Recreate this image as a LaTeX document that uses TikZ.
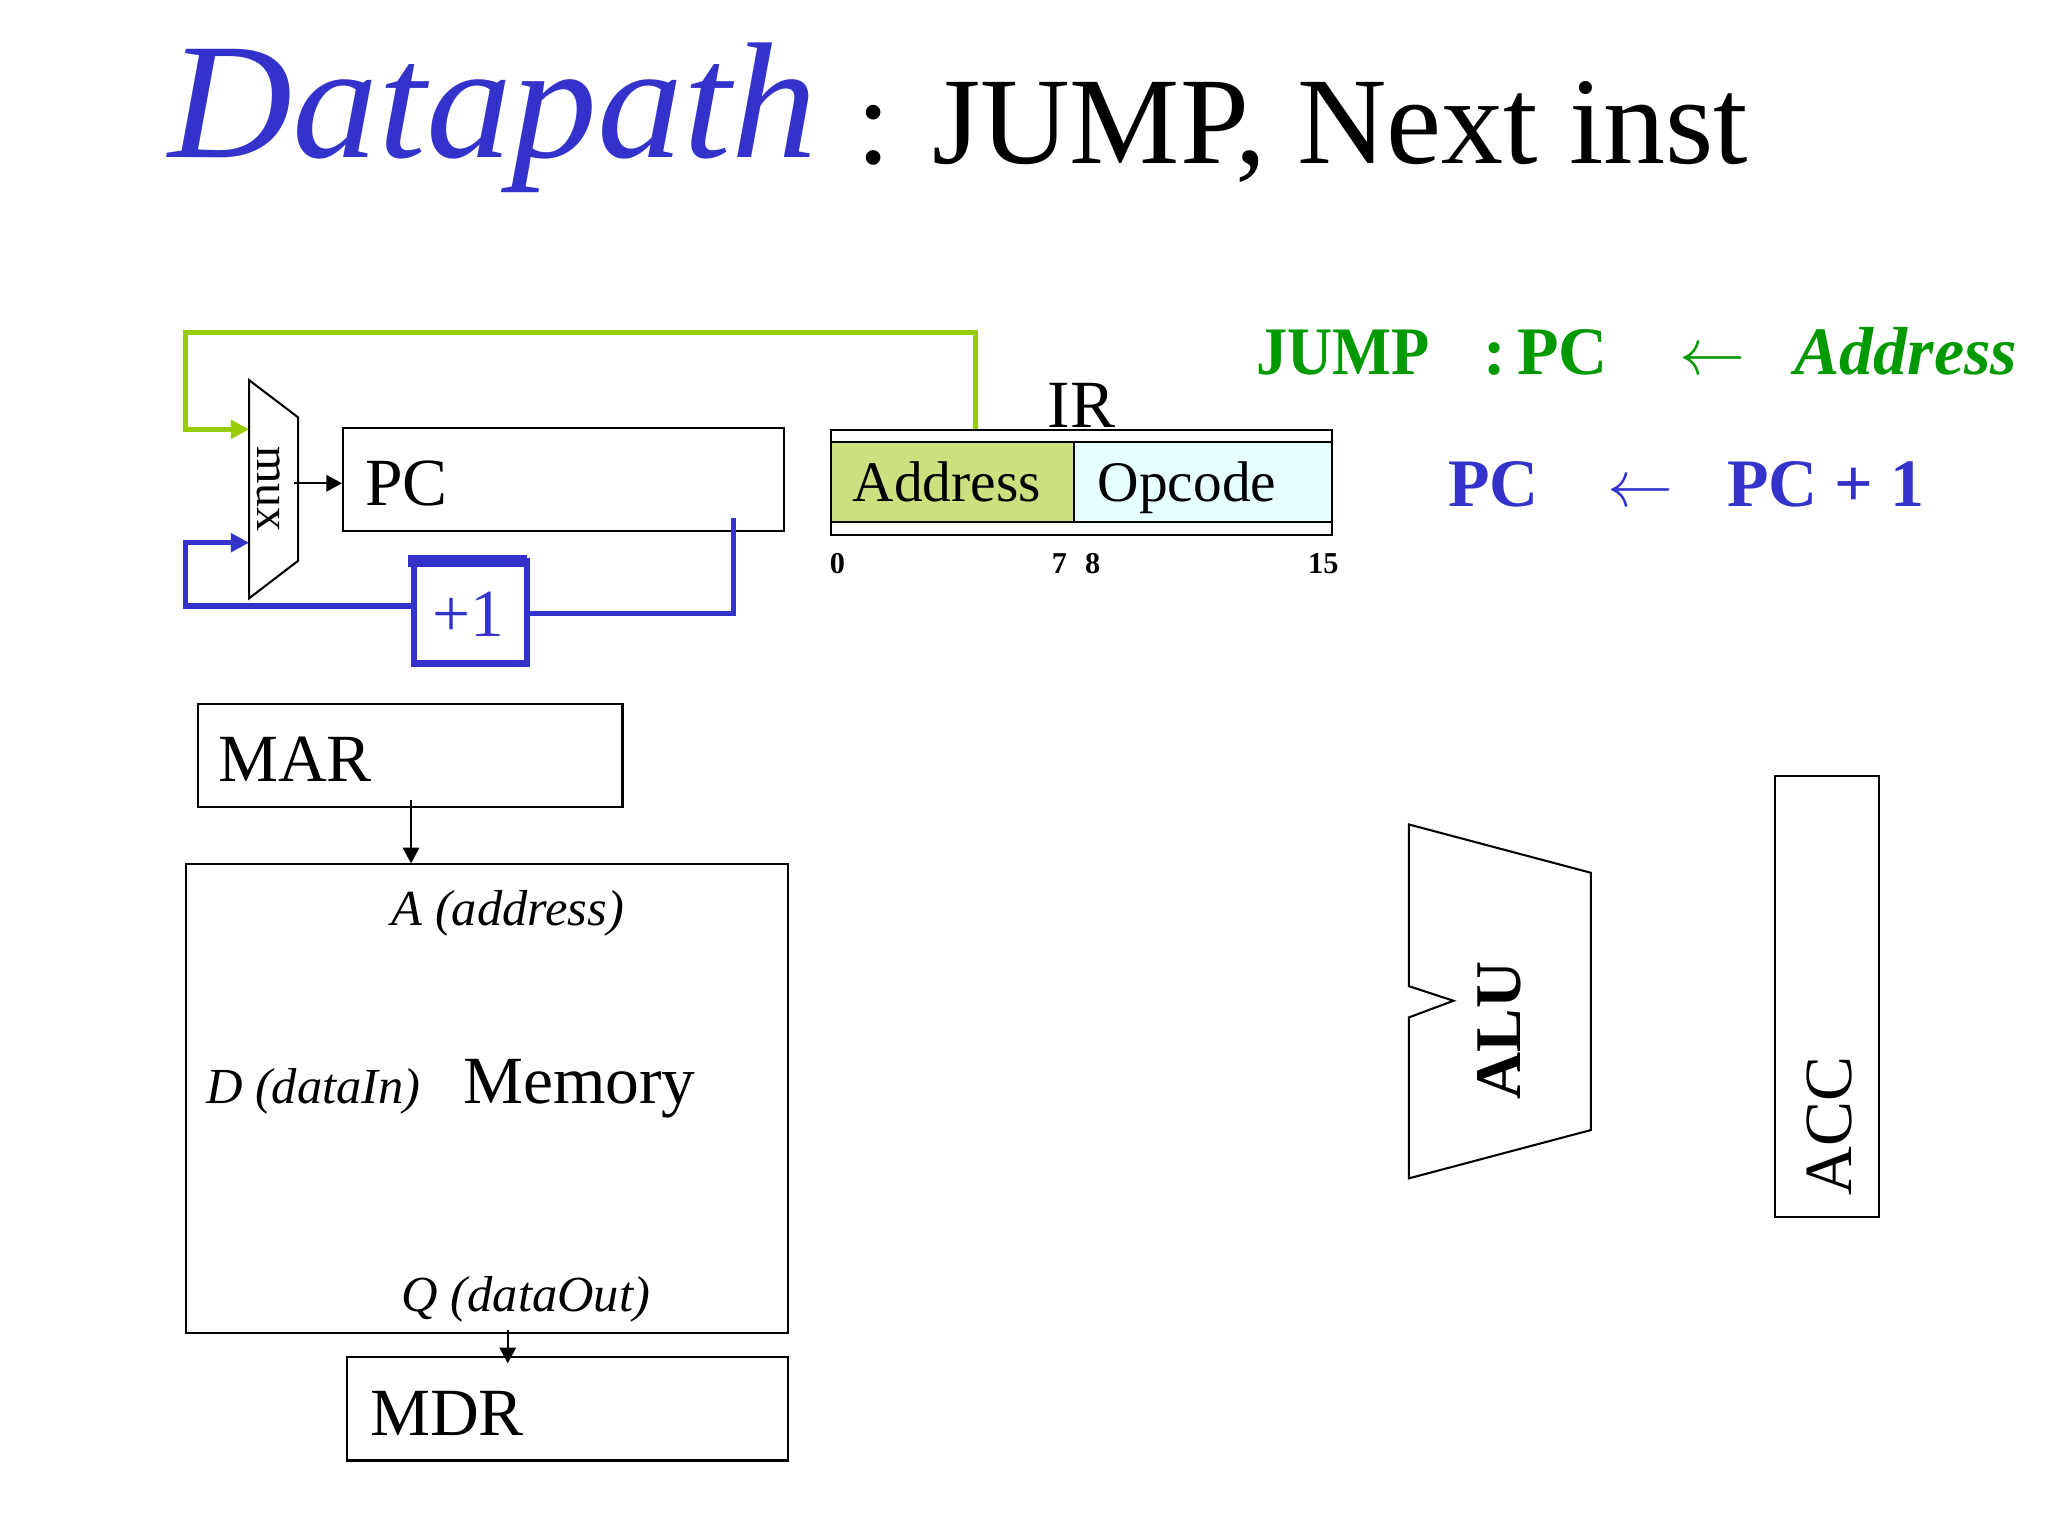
\documentclass[tikz,border=0pt]{standalone}
\usepackage{fontspec}
\setmainfont{Liberation Serif}
\usetikzlibrary{arrows.meta}

\definecolor{dpblue}{RGB}{51,51,204}
\definecolor{wiregreen}{RGB}{153,204,0}
\definecolor{jumpgreen}{RGB}{0,153,0}
\definecolor{addrfill}{RGB}{204,224,128}
\definecolor{opfill}{RGB}{230,255,255}

\newcommand{\regfont}{\fontsize{14.7}{17}\selectfont}
\newcommand{\fieldfont}{\fontsize{12.5}{15}\selectfont}
\newcommand{\portfont}{\fontsize{11}{13}\selectfont\itshape}
\newcommand{\bitfont}{\fontsize{6.6}{8}\selectfont\bfseries}
\newcommand{\eqfont}{\fontsize{14.8}{17}\selectfont\bfseries}

\begin{document}
\begin{tikzpicture}[x=0.1mm,y=-0.1mm,line width=0.45pt,
  txt/.style={inner sep=0pt,anchor=base west},
  reg/.style={draw,inner sep=0pt,anchor=north west},
  wire/.style={line width=0.4mm},
  tip/.style={-{Triangle[length=1.2mm,width=1.25mm]}},
  wtip/.style={-{Triangle[length=1.4mm,width=1.4mm]}}]

\path[use as bounding box,fill=white] (0,0) rectangle (1568,1176);

%Titolo
\node[txt,text=dpblue,font=\fontsize{36}{40}\selectfont\itshape] (title) at (128,120.5) {\scalebox{1.04}[1]{Datapath}};
\node[txt,font=\fontsize{27}{30}\selectfont] (subtitle) at (655,125) {: JUMP, Next inst};

%PC e mux
\begin{scope}
\draw (190.7,291) -- (228.3,319.6) -- (228.3,429.3) -- (190.7,458.1) -- cycle;
\node[rotate=-90,inner sep=0pt,font=\fontsize{10.5}{12}\selectfont] (muxlbl) at (206,374.5) {mux};

\node[reg,minimum width=33.73mm,minimum height=7.91mm] (pc) at (261.9,326.7) {};
\node[txt,font=\regfont] (pclbl) at (279,387.2) {PC};

\coordinate (muxout) at (225,370);
\draw[tip] (muxout) -- (muxout -| pc.west);

\node[reg,draw=dpblue,line width=0.48mm,minimum width=8.65mm,minimum height=7.82mm] (inc) at (314.8,427.4) {};
\fill[dpblue] (312.4,425) rectangle (403.7,434);
\node[txt,text=dpblue,font=\regfont] (inclbl) at (330,487.5) {+1};

\coordinate (pctap) at (561.6,396.9);
\coordinate (incr) at (401.3,469.6);
\coordinate (incl) at (314.8,464);
\coordinate (bcorner) at (142.2,415.5);
\coordinate (muxb) at (190.7,415.5);
\draw[wire,dpblue] (pctap) |- (incr);
\draw[wire,dpblue,wtip] (incl) -| (bcorner) -- (muxb);
\end{scope}

%IR
\begin{scope}
\node[reg,minimum width=38.35mm,minimum height=8.07mm] (ir) at (635.5,328.2) {};
\node[reg,fill=addrfill,minimum width=18.57mm,minimum height=6.13mm] (iraddr) at (635.5,337.4) {};
\node[reg,fill=opfill,minimum width=19.78mm,minimum height=6.13mm] (irop) at (821.2,337.4) {};
\node[txt,font=\regfont] (irlbl) at (801.5,327.5) {IR};
\node[txt,font=\fieldfont] (addrlbl) at (652,384) {Address};
\node[txt,font=\fieldfont] (oplbl) at (839.7,384) {Opcode};

\node[txt,font=\bitfont] (bit0) at (634.5,439) {0};
\node[txt,font=\bitfont] (bit7) at (804.5,439) {7};
\node[txt,font=\bitfont] (bit8) at (830,439) {8};
\node[txt,font=\bitfont] (bit15) at (1000.8,439) {15};

\coordinate (irtap) at (746.8,328.2);
\coordinate (gcorner) at (142.2,254.5);
\coordinate (muxa) at (190.7,328.7);
\draw[wire,wiregreen,wtip] (irtap) |- (gcorner) |- (muxa);
\end{scope}

%RTL
\node[txt,text=jumpgreen,font=\eqfont] (jmp) at (961,286.4) {\scalebox{0.92}[1]{JUMP}};
\node[txt,text=jumpgreen,font=\eqfont] (jcolon) at (1135,286.4) {:};
\node[txt,text=jumpgreen,font=\eqfont] (jpc) at (1161,286.4) {PC};
\node[txt,text=jumpgreen,font=\eqfont] (jarrow) at (1285,286.4) {$\leftarrow$};
\node[txt,text=jumpgreen,font=\eqfont\itshape] (jaddr) at (1373,286.4) {Address};

\node[txt,text=dpblue,font=\eqfont] (npc) at (1108,388) {PC};
\node[txt,text=dpblue,font=\eqfont] (narrow) at (1230,388) {$\leftarrow$};
\node[txt,text=dpblue,font=\eqfont] (ninc) at (1321.6,388) {PC + 1};

%Memoria
\begin{scope}
\node[reg,minimum width=32.51mm,minimum height=7.92mm] (mar) at (150.7,538) {};
\node[txt,font=\regfont] (marlbl) at (166.3,598.5) {MAR};

\node[reg,minimum width=46.09mm,minimum height=35.87mm] (mem) at (141.4,661) {};
\node[txt,font=\portfont] (memA) at (299,708.3) {A (address)};
\node[txt,font=\portfont] (memD) at (157,844.8) {D (dataIn)};
\node[txt,font=\regfont] (memlbl) at (353.8,844.8) {Memory};
\node[txt,font=\portfont] (memQ) at (306.7,1004.4) {Q (dataOut)};

\node[reg,minimum width=33.71mm,minimum height=7.91mm] (mdr) at (265.2,1038.3) {};
\node[txt,font=\regfont] (mdrlbl) at (282.6,1098.8) {MDR};

\coordinate (martap) at (314.7,612.6);
\draw[tip] (martap) -- (martap |- mem.north);
\coordinate (memtap) at (388.8,1018);
\draw[tip] (memtap) -- ([yshift=-0.55mm]memtap |- mdr.north);
\end{scope}

%ALU e ACC
\draw (1078.6,631.2) -- (1218,668.2) -- (1218,865.2) -- (1078.6,902.2)
  -- (1078.6,779) -- (1112.8,766.2) -- (1078.6,755) -- cycle;
\node[rotate=90,inner sep=0pt,font=\fontsize{14.2}{16}\selectfont\bfseries] (alulbl) at (1147.6,789) {ALU};

\node[reg,minimum width=7.97mm,minimum height=33.75mm] (acc) at (1358,593.4) {};
\node[rotate=90,inner sep=0pt,font=\regfont] (acclbl) at (1401,862) {ACC};

\end{tikzpicture}
\end{document}
